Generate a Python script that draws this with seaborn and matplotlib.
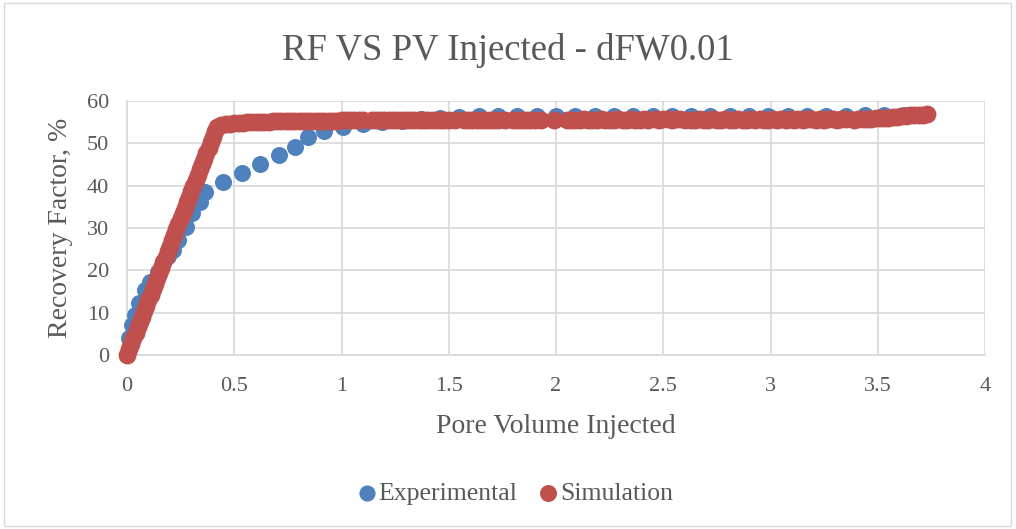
import matplotlib
matplotlib.use("Agg")
import matplotlib.pyplot as plt
import seaborn as sns
import pandas as pd
from matplotlib.patches import Rectangle

# ---------------- data ----------------
exp_x = [0.000, 0.009, 0.022, 0.037, 0.057, 0.084, 0.107, 0.146, 0.170, 0.190,
         0.216, 0.239, 0.275, 0.302, 0.340, 0.364, 0.449, 0.535, 0.620, 0.709,
         0.783, 0.845, 0.920, 1.008, 1.102, 1.19, 1.28, 1.37, 1.46, 1.55,
         1.64, 1.73, 1.82, 1.91, 2.00, 2.09, 2.18, 2.27, 2.36, 2.45,
         2.54, 2.63, 2.72, 2.81, 2.90, 2.99, 3.08, 3.17, 3.26, 3.35,
         3.44, 3.53, 3.62]
exp_y = [0.0, 3.9, 7.1, 9.4, 12.2, 15.4, 17.3, 19.7, 22.0, 23.5,
         24.8, 27.2, 30.3, 33.5, 36.2, 38.6, 40.9, 43.1, 45.1, 47.2,
         49.2, 51.6, 52.9, 53.9, 54.6, 55.0, 55.4, 55.8, 56.1, 56.3,
         56.4, 56.5, 56.5, 56.5, 56.5, 56.5, 56.5, 56.5, 56.5, 56.5,
         56.5, 56.5, 56.5, 56.5, 56.5, 56.5, 56.5, 56.5, 56.5, 56.5,
         56.6, 56.6, 56.7]

sim_x = [0.00, 0.01, 0.02, 0.03, 0.04, 0.05, 0.06, 0.07, 0.08, 0.09,
         0.10, 0.11, 0.12, 0.13, 0.14, 0.15, 0.16, 0.17, 0.18, 0.19,
         0.20, 0.21, 0.22, 0.23, 0.24, 0.25, 0.26, 0.27, 0.28, 0.29,
         0.30, 0.31, 0.32, 0.33, 0.34, 0.35, 0.36, 0.37, 0.38, 0.39,
         0.40, 0.41, 0.42,
         0.44, 0.46, 0.48, 0.50, 0.52, 0.54, 0.56, 0.58, 0.60, 0.62,
         0.64, 0.66, 0.68, 0.70, 0.72, 0.74, 0.76, 0.78, 0.80, 0.82,
         0.84, 0.86, 0.88, 0.90, 0.92, 0.94, 0.96, 0.98, 1.00, 1.02,
         1.04, 1.06, 1.08, 1.10,
         1.14, 1.16, 1.18, 1.20, 1.22, 1.24, 1.26, 1.28, 1.30, 1.32,
         1.34, 1.36, 1.38, 1.40, 1.42, 1.44, 1.46, 1.48, 1.50,
         1.53,
         1.57, 1.59, 1.61, 1.63, 1.65, 1.67, 1.69, 1.71, 1.73,
         1.76,
         1.80, 1.82, 1.84, 1.86, 1.88, 1.90,
         1.93, 1.99,
         2.05, 2.07, 2.09, 2.11, 2.13, 2.15, 2.17, 2.19, 2.21, 2.23,
         2.25, 2.27, 2.29, 2.31, 2.33, 2.35, 2.37, 2.39, 2.41, 2.43,
         2.46, 2.48, 2.50, 2.52, 2.54, 2.56, 2.58, 2.60,
         2.63, 2.65, 2.67, 2.69, 2.71, 2.73, 2.75, 2.77, 2.79, 2.81,
         2.83, 2.85, 2.87, 2.89, 2.91, 2.93, 2.95, 2.97, 2.99, 3.01,
         3.03, 3.05, 3.07, 3.09, 3.11, 3.13, 3.15, 3.17, 3.19, 3.21,
         3.23, 3.25, 3.27, 3.29, 3.31, 3.33, 3.35,
         3.39, 3.41, 3.43, 3.45, 3.47, 3.49, 3.51, 3.53, 3.55, 3.57,
         3.59, 3.61, 3.63, 3.65, 3.67, 3.69, 3.71, 3.73]
sim_y = [0.0, 1.3, 2.6, 3.9, 5.2, 6.5, 7.7, 9.0, 10.3, 11.6,
         12.9, 14.2, 15.5, 16.8, 18.1, 19.4, 20.6, 21.9, 23.2, 24.5,
         25.8, 27.1, 28.4, 29.7, 31.0, 32.3, 33.5, 34.8, 36.1, 37.4,
         38.7, 40.0, 41.3, 42.6, 43.9, 45.2, 46.4, 47.7, 49.0, 50.3,
         51.6, 52.9, 53.9,
         54.3, 54.5, 54.6, 54.7, 54.8, 54.9, 55.0, 55.0, 55.0, 55.1,
         55.1, 55.1, 55.2, 55.2, 55.2, 55.2, 55.3, 55.3, 55.3, 55.3,
         55.3, 55.4, 55.4, 55.4, 55.4, 55.4, 55.4, 55.4, 55.5, 55.5,
         55.5, 55.5, 55.5, 55.5,
         55.5, 55.6, 55.5, 55.5, 55.6, 55.5, 55.6, 55.5, 55.6, 55.6,
         55.5, 55.6, 55.6, 55.5, 55.6, 55.6, 55.5, 55.6, 55.6,
         55.5,
         55.6, 55.6, 55.5, 55.6, 55.6, 55.6, 55.5, 55.6, 55.6,
         55.5,
         55.6, 55.6, 55.5, 55.6, 55.6, 55.6,
         55.6, 55.6,
         55.5, 55.6, 55.6, 55.6, 55.7, 55.6, 55.6, 55.6, 55.7, 55.6,
         55.6, 55.6, 55.7, 55.6, 55.6, 55.7, 55.6, 55.6, 55.7, 55.6,
         55.7, 55.6, 55.7, 55.7, 55.6, 55.7, 55.7, 55.6,
         55.6, 55.6, 55.7, 55.6, 55.6, 55.7, 55.6, 55.6, 55.7, 55.6,
         55.6, 55.7, 55.6, 55.6, 55.7, 55.6, 55.7, 55.6, 55.6, 55.7,
         55.6, 55.7, 55.6, 55.7, 55.6, 55.7, 55.6, 55.7, 55.7, 55.6,
         55.7, 55.6, 55.7, 55.7, 55.6, 55.7, 55.7,
         55.6, 55.7, 55.7, 55.8, 55.8, 55.9, 55.9, 56.0, 56.1, 56.2,
         56.3, 56.4, 56.5, 56.6, 56.7, 56.7, 56.8, 56.9]

x_ticks = [0, 0.5, 1, 1.5, 2, 2.5, 3, 3.5, 4]
x_tick_labels = ["0", "0.5", "1", "1.5", "2", "2.5", "3", "3.5", "4"]
y_ticks = [0, 10, 20, 30, 40, 50, 60]

title = "RF VS PV Injected - dFW0.01"
x_label = "Pore Volume Injected"
y_label = "Recovery Factor, %"
series_names = ["Experimental", "Simulation"]
colors = ["#4F81BD", "#C0504D"]

# ---------------- figure ----------------
sns.set_theme(style="white")
plt.rcParams["font.family"] = ["Liberation Serif", "DejaVu Serif"]

TEXT = "#595959"
GRID = "#D9D9D9"

fig = plt.figure(figsize=(10.16, 5.29), dpi=100)
fig.patch.set_facecolor("white")
fig.add_artist(Rectangle((0.004, 0.006), 0.991, 0.988, transform=fig.transFigure,
                         fill=False, edgecolor=GRID, linewidth=1.0))

ax = fig.add_axes([0.125, 0.329, 0.8445, 0.480])

df_exp = pd.DataFrame({"x": exp_x, "y": exp_y})
df_sim = pd.DataFrame({"x": sim_x, "y": sim_y})

sns.scatterplot(data=df_exp, x="x", y="y", ax=ax, color=colors[0], s=150,
                linewidth=0, label=series_names[0], zorder=3, clip_on=False)
sns.scatterplot(data=df_sim, x="x", y="y", ax=ax, color=colors[1], s=165,
                linewidth=0, label=series_names[1], zorder=4, clip_on=False)

ax.set_xlim(0, 4)
ax.set_ylim(0, 60)
ax.set_xticks(x_ticks)
ax.set_xticklabels(x_tick_labels)
ax.set_yticks(y_ticks)
ax.grid(True, color=GRID, linewidth=1.2)
ax.set_axisbelow(True)
for side in ["top", "right"]:
    ax.spines[side].set_visible(False)
for side in ["left", "bottom"]:
    ax.spines[side].set_color(GRID)
    ax.spines[side].set_linewidth(1.2)
ax.tick_params(axis="both", length=0, labelsize=16, colors=TEXT)
ax.tick_params(axis="x", pad=16)
ax.tick_params(axis="y", pad=13)

ax.set_xlabel(x_label, fontsize=20, color=TEXT, labelpad=13)
ax.set_ylabel(y_label, fontsize=20, color=TEXT, labelpad=10)

fig.text(0.5, 0.905, title, ha="center", va="center", fontsize=26.5, color=TEXT)

leg = ax.get_legend()
handles, labels = ax.get_legend_handles_labels()
leg.remove()
fig.legend(handles, labels, loc="center", bbox_to_anchor=(0.508, 0.067), ncol=2,
           frameon=False, fontsize=18.5, handlelength=0.6, handletextpad=0.15,
           columnspacing=0.9, markerscale=0.95, labelcolor=TEXT)

fig.savefig("out.png", dpi=100, facecolor="white")
